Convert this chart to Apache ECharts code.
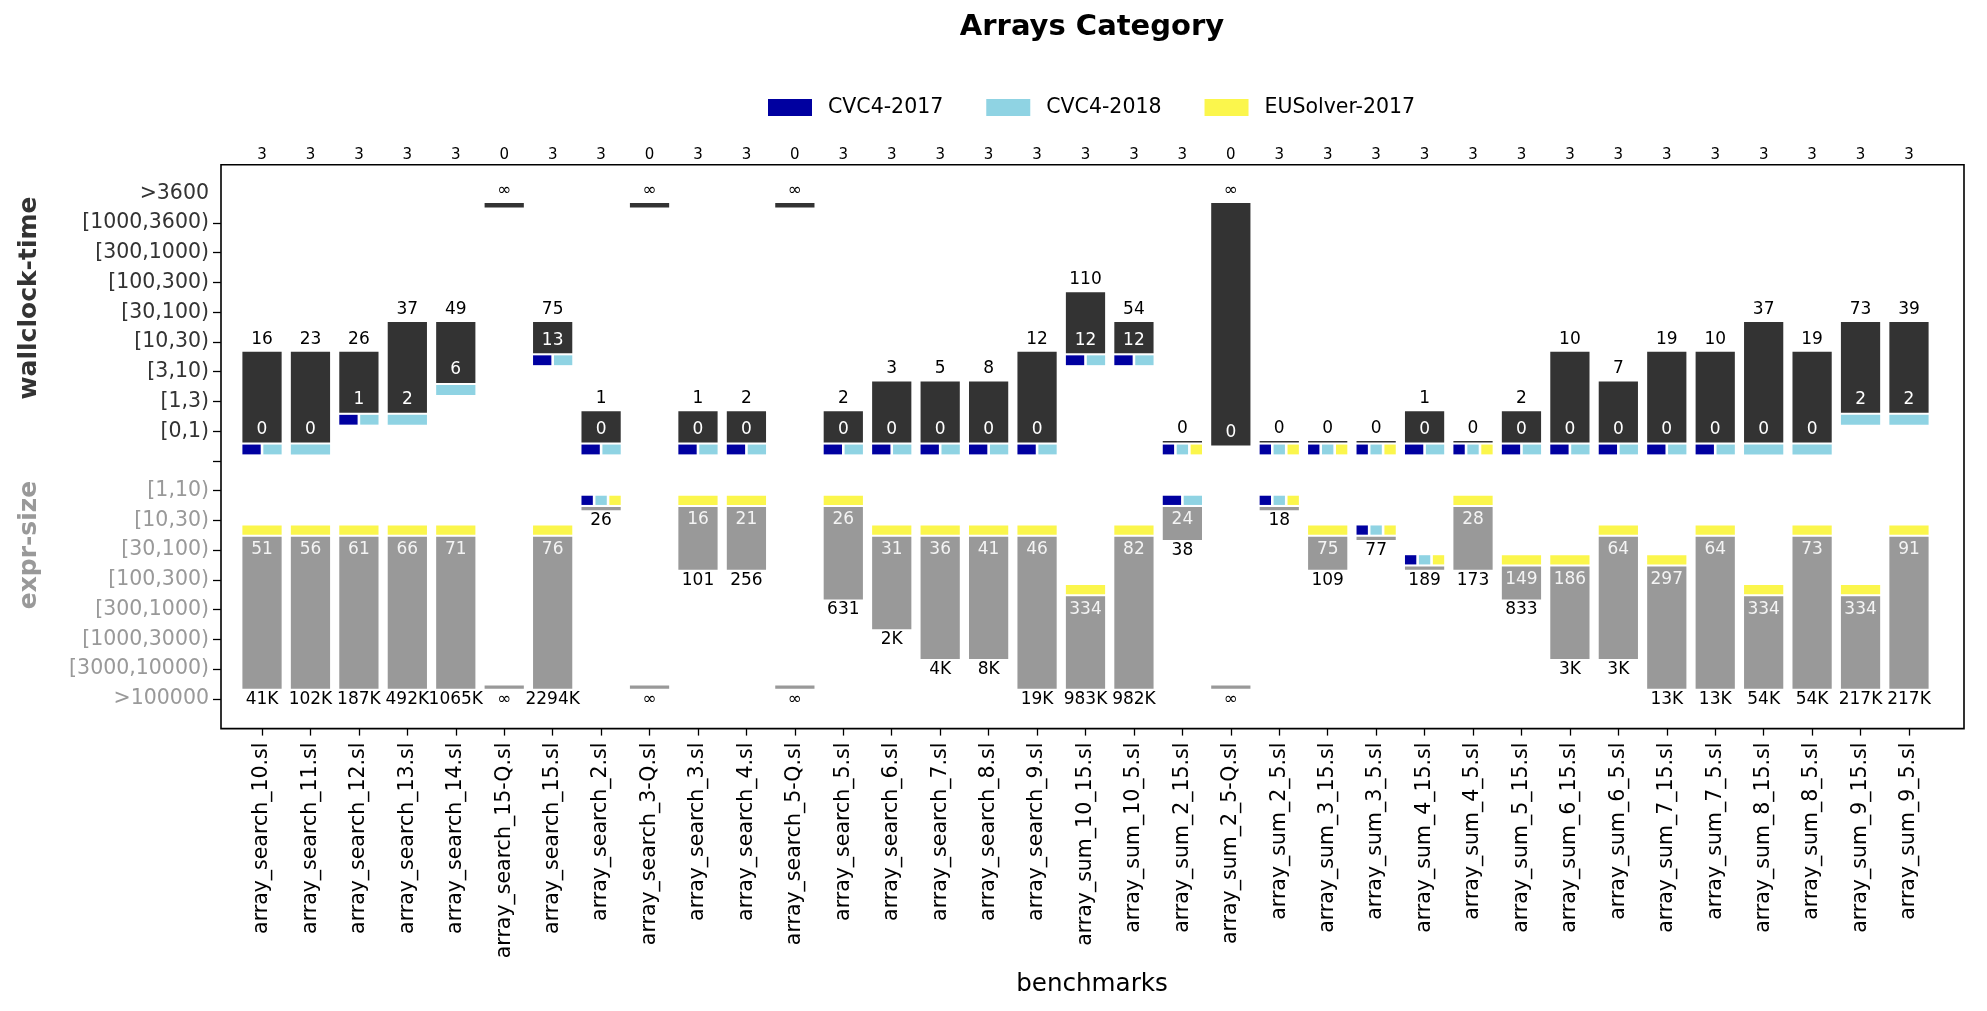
<!DOCTYPE html>
<html>
<head>
<meta charset="utf-8">
<script src="https://cdn.jsdelivr.net/npm/echarts@6/dist/echarts.min.js"></script>
<style>
  html, body { margin: 0; padding: 0; background: #fff; }
  #chart { width: 1987px; height: 1011px; }
</style>
</head>
<body>
<div id="chart"></div>
<script>
// benchmarks on the x axis
var benchmarks = [
    'array_search_10.sl', 'array_search_11.sl', 'array_search_12.sl', 'array_search_13.sl',
    'array_search_14.sl', 'array_search_15-Q.sl', 'array_search_15.sl', 'array_search_2.sl',
    'array_search_3-Q.sl', 'array_search_3.sl', 'array_search_4.sl', 'array_search_5-Q.sl',
    'array_search_5.sl', 'array_search_6.sl', 'array_search_7.sl', 'array_search_8.sl',
    'array_search_9.sl', 'array_sum_10_15.sl', 'array_sum_10_5.sl', 'array_sum_2_15.sl',
    'array_sum_2_5-Q.sl', 'array_sum_2_5.sl', 'array_sum_3_15.sl', 'array_sum_3_5.sl',
    'array_sum_4_15.sl', 'array_sum_4_5.sl', 'array_sum_5_15.sl', 'array_sum_6_15.sl',
    'array_sum_6_5.sl', 'array_sum_7_15.sl', 'array_sum_7_5.sl', 'array_sum_8_15.sl',
    'array_sum_8_5.sl', 'array_sum_9_15.sl', 'array_sum_9_5.sl'
];
var solvedCount = [3, 3, 3, 3, 3, 0, 3, 3, 0, 3, 3, 0, 3, 3, 3, 3, 3, 3, 3, 3,
    0, 3, 3, 3, 3, 3, 3, 3, 3, 3, 3, 3, 3, 3, 3];

var solvers = ['CVC4-2017', 'CVC4-2018', 'EUSolver-2017'];
var solverColors = ['#0000a0', '#8fd3e3', '#fbf64c'];

// y tick labels
var timeLevels = ['[0,1)', '[1,3)', '[3,10)', '[10,30)', '[30,100)', '[100,300)',
    '[300,1000)', '[1000,3600)', '>3600'];
var sizeLevels = ['[1,10)', '[10,30)', '[30,100)', '[100,300)', '[300,1000)',
    '[1000,3000)', '[3000,10000)', '>100000'];

// wallclock-time: min / max text and their level (1 = [0,1) ... 9 = >3600)
var timeMinText = ['0', '0', '1', '2', '6', '', '13', '0', '', '0', '0', '', '0', '0', '0', '0', '0',
    '12', '12', '0', '0', '0', '0', '0', '0', '0', '0', '0', '0', '0', '0', '0', '0', '2', '2'];
var timeMaxText = ['16', '23', '26', '37', '49', '\u221e', '75', '1', '\u221e', '1', '2', '\u221e', '2',
    '3', '5', '8', '12', '110', '54', '0', '\u221e', '0', '0', '0', '1', '0', '2', '10', '7',
    '19', '10', '37', '19', '73', '39'];
var timeMinLevel = [1, 1, 2, 2, 3, 9, 4, 1, 9, 1, 1, 9, 1, 1, 1, 1, 1, 4, 4, 1, 1, 1, 1, 1, 1, 1,
    1, 1, 1, 1, 1, 1, 1, 2, 2];
var timeMaxLevel = [4, 4, 4, 5, 5, 9, 5, 2, 9, 2, 2, 9, 2, 3, 3, 3, 4, 6, 5, 1, 9, 1, 1, 1, 2, 1,
    2, 4, 3, 4, 4, 5, 4, 5, 5];
// solvers with the fastest time (indexes into solvers)
var timeWinners = [[0, 1], [1], [0, 1], [1], [1], [], [0, 1], [0, 1], [], [0, 1], [0, 1], [],
    [0, 1], [0, 1], [0, 1], [0, 1], [0, 1], [0, 1], [0, 1], [0, 1, 2], [], [0, 1, 2], [0, 1, 2],
    [0, 1, 2], [0, 1], [0, 1, 2], [0, 1], [0, 1], [0, 1], [0, 1], [0, 1], [1], [1], [1], [1]];

// expr-size: min / max text and their level (1 = [1,10) ... 8 = >100000)
var sizeMinText = ['51', '56', '61', '66', '71', '', '76', '26', '', '16', '21', '', '26', '31',
    '36', '41', '46', '334', '82', '24', '', '18', '75', '77', '189', '28', '149', '186', '64',
    '297', '64', '334', '73', '334', '91'];
var sizeMaxText = ['41K', '102K', '187K', '492K', '1065K', '\u221e', '2294K', '26', '\u221e', '101',
    '256', '\u221e', '631', '2K', '4K', '8K', '19K', '983K', '982K', '38', '\u221e', '18', '109',
    '77', '189', '173', '833', '3K', '3K', '13K', '13K', '54K', '54K', '217K', '217K'];
var sizeMinLevel = [3, 3, 3, 3, 3, 8, 3, 2, 8, 2, 2, 8, 2, 3, 3, 3, 3, 5, 3, 2, 8, 2, 3, 3, 4, 2,
    4, 4, 3, 4, 3, 5, 3, 5, 3];
var sizeMaxLevel = [8, 8, 8, 8, 8, 8, 8, 2, 8, 4, 4, 8, 5, 6, 7, 7, 8, 8, 8, 3, 8, 2, 4, 3, 4, 4,
    5, 7, 7, 8, 8, 8, 8, 8, 8];
// solvers with the smallest expression
var sizeWinners = [[2], [2], [2], [2], [2], [], [2], [0, 1, 2], [], [2], [2], [], [2], [2], [2],
    [2], [2], [2], [2], [0, 1], [], [0, 1, 2], [2], [0, 1, 2], [0, 1, 2], [2], [2], [2], [2], [2],
    [2], [2], [2], [2], [2]];

var FONT = 'DejaVu Sans';
var Y_MIN = -9.0, Y_MAX = 9.96;

var chart = echarts.init(document.getElementById('chart'));

function rect(x, y, w, h, color) {
    return {type: 'rect', shape: {x: x, y: y, width: w, height: h}, style: {fill: color}};
}
function label(x, y, str, color, size) {
    return {
        type: 'text',
        style: {
            text: str, x: x, y: y, fill: color, fontSize: size, fontFamily: FONT,
            align: 'center', verticalAlign: 'middle'
        }
    };
}
function markers(list, x0, bw, yA, yB) {
    var gap = 2.6, n = list.length;
    var w = (bw - gap * (n - 1)) / n;
    return list.map(function (s, j) {
        return rect(x0 + j * (w + gap), Math.min(yA, yB), w, Math.abs(yB - yA), solverColors[s]);
    });
}

function renderItem(params, api) {
    var i = api.value(0);
    var bw = api.size([1, 0])[0] * 0.81;
    var cx = api.coord([i, 0])[0];
    var x0 = cx - bw / 2;
    var Y = function (v) { return api.coord([i, v])[1]; };
    var kids = [];

    kids.push(label(cx, Y(Y_MAX) - 9.5, String(solvedCount[i]), '#000', 15));

    // wallclock-time part
    var tw = timeWinners[i];
    var tTop = Y(timeMaxLevel[i] - 0.33);
    var tBot = Y(timeMinLevel[i] - (tw.length ? 0.38 : 0.48));
    kids.push(rect(x0, tTop, bw, tBot - tTop, '#333333'));
    if (tw.length) {
        kids = kids.concat(markers(tw, x0, bw, Y(timeMinLevel[i] - 0.45), Y(timeMinLevel[i] - 0.78)));
    }
    kids.push(label(cx, tTop - 12.5, timeMaxText[i], '#000', 17));
    if (timeMinLevel[i] !== timeMaxLevel[i]) {
        kids.push(label(cx, tBot - 13, timeMinText[i], '#fff', 17));
    }

    // expr-size part
    var sw = sizeWinners[i];
    var sTop = Y(-sizeMinLevel[i] + 0.45);
    var sBot = Y(-sizeMaxLevel[i] + 0.34);
    kids.push(rect(x0, sTop, bw, sBot - sTop, '#999999'));
    if (sw.length) {
        kids = kids.concat(markers(sw, x0, bw, Y(-sizeMinLevel[i] + 0.83), Y(-sizeMinLevel[i] + 0.52)));
    }
    kids.push(label(cx, sBot + 10.5, sizeMaxText[i], '#000', 17));
    if (sizeMinLevel[i] !== sizeMaxLevel[i]) {
        kids.push(label(cx, sTop + 13, sizeMinText[i], '#f4f4f4', 17));
    }
    return {type: 'group', children: kids};
}

var labelValues = [], tickValues = [];
for (var v = -sizeLevels.length; v <= timeLevels.length; v++) {
    labelValues.push(v);
    if (v < timeLevels.length) tickValues.push(v);
}

var option = {
    animation: false,
    backgroundColor: '#fff',
    legend: {
        data: solvers,
        left: 763,
        top: 92,
        icon: 'rect',
        itemWidth: 44,
        itemHeight: 17,
        itemGap: 43,
        textStyle: {fontFamily: FONT, fontSize: 20.5, color: '#000', padding: [0, 0, 0, 11]}
    },
    grid: {left: 237.8, right: 53.8, top: 164.7, bottom: 282.4},
    xAxis: {
        type: 'category',
        data: benchmarks,
        axisLine: {show: false, onZero: false},
        axisTick: {show: true, alignWithLabel: true, length: 7, lineStyle: {color: '#000', width: 1.3}},
        axisLabel: {
            interval: 0, rotate: 90, margin: 14, color: '#000',
            fontFamily: FONT, fontSize: 20.5
        },
        splitLine: {show: false}
    },
    yAxis: {
        type: 'value',
        min: Y_MIN,
        max: Y_MAX,
        offset: 16.8,
        axisLine: {show: false},
        splitLine: {show: false},
        axisTick: {show: true, length: 8, customValues: tickValues, lineStyle: {color: '#000', width: 1.3}},
        axisLabel: {
            customValues: labelValues,
            margin: 12,
            formatter: function (val) {
                val = Math.round(val);
                if (val > 0) return '{u|' + timeLevels[val - 1] + '}';
                if (val < 0) return '{l|' + sizeLevels[-val - 1] + '}';
                return '';
            },
            rich: {
                u: {color: '#333', fontFamily: FONT, fontSize: 20.5},
                l: {color: '#999', fontFamily: FONT, fontSize: 20.5}
            }
        }
    },
    series: [
        {
            type: 'custom',
            name: 'benchmarks',
            clip: false,
            renderItem: renderItem,
            data: benchmarks.map(function (b, i) { return [i, 0]; })
        }
    ].concat(solvers.map(function (s, k) {
        return {type: 'bar', name: s, data: [], itemStyle: {color: solverColors[k]}};
    })),
    graphic: [
        {
            type: 'rect', z: 100,
            shape: {x: 221, y: 164.7, width: 1743, height: 563.9},
            style: {fill: null, stroke: '#000', lineWidth: 1.6}
        },
        {
            type: 'text', x: 1092, y: 27.5,
            style: {text: 'Arrays Category', fill: '#000', fontFamily: FONT, fontWeight: 'bold',
                fontSize: 29, align: 'center', verticalAlign: 'middle'}
        },
        {
            type: 'text', x: 29, y: 298, rotation: Math.PI / 2,
            style: {text: 'wallclock-time', fill: '#333', fontFamily: FONT, fontWeight: 'bold',
                fontSize: 25, align: 'center', verticalAlign: 'middle'}
        },
        {
            type: 'text', x: 29, y: 545, rotation: Math.PI / 2,
            style: {text: 'expr-size', fill: '#999', fontFamily: FONT, fontWeight: 'bold',
                fontSize: 25, align: 'center', verticalAlign: 'middle'}
        },
        {
            type: 'text', x: 1092, y: 985,
            style: {text: 'benchmarks', fill: '#000', fontFamily: FONT,
                fontSize: 24.6, align: 'center', verticalAlign: 'middle'}
        }
    ]
};
chart.setOption(option);
</script>
</body>
</html>
